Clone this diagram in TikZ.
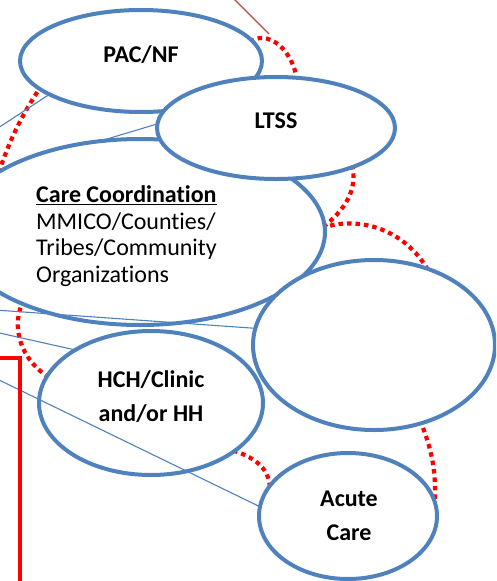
\documentclass[tikz,border=0pt]{standalone}
\usepackage{fontspec}
\setmainfont[Ligatures=NoCommon]{Carlito}
\usetikzlibrary{shapes.geometric}
\definecolor{ovalblue}{HTML}{4F81BD}
\definecolor{ringred}{HTML}{FF0000}
\definecolor{leadred}{HTML}{B24A40}
\begin{document}
\begin{tikzpicture}[x=1pt,y=-1pt,
    oval/.style={draw=ovalblue,line width=4pt,fill=white,ellipse,inner sep=0pt,outer sep=0pt},
    link/.style={draw=ovalblue,line width=1.1pt},
    ring/.style={draw=ringred,line width=4.2pt,dash pattern=on 4.5pt off 4pt},
    lbl/.style={font=\fontsize{24}{33.5}\selectfont\bfseries,align=center,inner sep=0pt}]
  \useasboundingbox (0,0) rectangle (496,581);
  \clip (0,0) rectangle (496,581);

  % dotted ring pieces, drawn first so the ovals hide their ends
  \draw[ring] (250,42) .. controls (265,30) and (293,45) .. (298,85);
  \draw[ring] (42,85) .. controls (25,110) and (8,140) .. (-5,185);
  \draw[ring] (352,165) .. controls (358,190) and (345,210) .. (322,228);
  \draw[ring] (322,228) .. controls (360,215) and (405,230) .. (428,270);
  \draw[ring] (24,300) .. controls (10,325) and (20,360) .. (50,378);
  \draw[ring] (225,448) .. controls (250,455) and (270,465) .. (270,490);
  \draw[ring] (420,420) .. controls (432,450) and (436,470) .. (435,503);

  % ovals, back to front
  \node[oval,minimum width=242pt,minimum height=102pt] (pac) at (141,61) {};
  \node[oval,minimum width=370pt,minimum height=186pt] (care) at (140,232) {};
  \node[oval,minimum width=238pt,minimum height=102pt] (ltss) at (276,128) {};
  \node[oval,minimum width=242pt,minimum height=170pt] (blank) at (374,345) {};
  \node[oval,minimum width=224pt,minimum height=144pt] (hch) at (151,403) {};
  \node[oval,minimum width=178pt,minimum height=126pt] (acute) at (348,516) {};

  % labels (base sits on the last line)
  \node[lbl,anchor=base] (pactxt) at (141,62) {PAC/NF};
  \node[lbl,anchor=base] (ltsstxt) at (276,128) {LTSS};
  \node[lbl,anchor=base] (hchtxt) at (151,421) {HCH/Clinic\\and/or HH};
  \node[lbl,anchor=base] (acutetxt) at (349,540) {Acute\\Care};
  \node[anchor=base west,align=left,inner sep=0pt,
        font=\fontsize{24}{26.5}\selectfont] (caretxt) at (36,282)
        {\textbf{\underline{Care Coordination}}\\MMICO/Counties/\\Tribes/Community\\Organizations};

  % thin links coming in from the left
  \coordinate (w1) at (-5,130);
  \coordinate (w2) at (-5,310);
  \coordinate (w3) at (-5,332);
  \coordinate (w4) at (-5,378);
  \draw[link] (w1) -- (pac.200);
  \draw[link] (care.114) -- (ltss.178);
  \draw[link] (w2) -- (blank.172);
  \draw[link] (w3) -- (hch.145);
  \draw[link] (w4) -- (acute.174);

  % lead line at the top and the red frame
  \coordinate (n1) at (233,-2);
  \coordinate (n2) at (269,34);
  \draw[leadred,line width=1.2pt] (n1) -- (n2);
  \coordinate (f1) at (-5,358);
  \coordinate (f2) at (20,590);
  \draw[ringred,line width=4.5pt] (f1) -| (f2);
\end{tikzpicture}
\end{document}
